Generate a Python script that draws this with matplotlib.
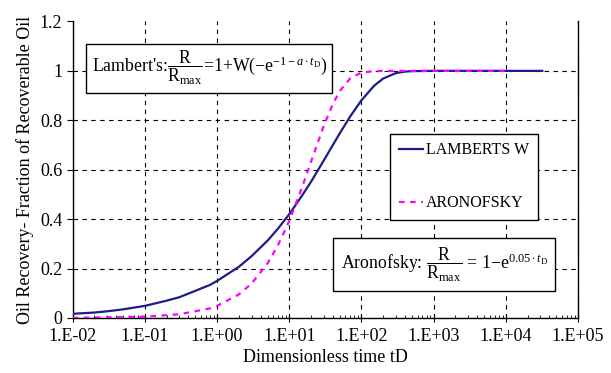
import matplotlib
matplotlib.use("Agg")
import matplotlib.pyplot as plt
from matplotlib.ticker import FixedLocator, LogLocator, NullFormatter

plt.rcParams['font.family'] = ['Liberation Serif', 'DejaVu Serif']
plt.rcParams['mathtext.fontset'] = 'custom'
plt.rcParams['mathtext.rm'] = 'Liberation Serif'
plt.rcParams['mathtext.it'] = 'Liberation Serif:italic'
plt.rcParams['font.size'] = 13

# Dimensionless time tD and recovery fractions
td_lambert = [0.01, 0.02, 0.03, 0.05, 0.1, 0.2, 0.3, 0.5, 0.8, 1, 2, 3, 5, 7, 10, 15, 20, 30,
              40, 50, 70, 100, 150, 200, 300, 400, 500, 1000, 32000]
r_lambert = [0.017, 0.022, 0.027, 0.035, 0.049, 0.070, 0.084, 0.110, 0.134, 0.15, 0.207, 0.25,
             0.313, 0.362, 0.42, 0.495, 0.551, 0.637, 0.699, 0.747, 0.816, 0.881, 0.94, 0.969,
             0.991, 0.997, 0.999, 1.0, 1.0]

td_aron = [0.01, 0.1, 0.3, 0.8, 1, 2, 3, 5, 7, 10, 15, 20, 30, 40, 50, 70, 100, 150, 200,
           1000, 10000]
r_aron = [0.0005, 0.005, 0.015, 0.039, 0.049, 0.095, 0.139, 0.221, 0.295, 0.393, 0.528, 0.632,
          0.777, 0.865, 0.918, 0.970, 0.993, 0.999, 1.0, 1.0, 1.0]

x_ticks = [1e-2, 1e-1, 1e0, 1e1, 1e2, 1e3, 1e4, 1e5]
x_labels = ['1.E-02', '1.E-01', '1.E+00', '1.E+01', '1.E+02', '1.E+03', '1.E+04', '1.E+05']
y_ticks = [0, 0.2, 0.4, 0.6, 0.8, 1.0, 1.2]
y_labels = ['0', '0.2', '0.4', '0.6', '0.8', '1', '1.2']

fig = plt.figure(figsize=(6.11, 3.73), dpi=100)
ax = fig.add_axes([0.119, 0.1475, 0.827, 0.795])

ax.plot(td_lambert, r_lambert, color='#1c1c8a', linewidth=1.6, label='LAMBERTS W', zorder=3)
ax.plot(td_aron, r_aron, color='#ff00ff', linewidth=1.6, linestyle=(0, (2.5, 2.5)),
        label='ARONOFSKY', zorder=4)

ax.set_xscale('log')
ax.set_xlim(1e-2, 1e5)
ax.set_ylim(0, 1.2)

ax.xaxis.set_major_locator(FixedLocator(x_ticks))
ax.set_xticklabels(x_labels)
ax.xaxis.set_minor_locator(LogLocator(base=10, subs=range(2, 10), numticks=20))
ax.xaxis.set_minor_formatter(NullFormatter())
ax.set_yticks(y_ticks)
ax.set_yticklabels(y_labels)

ax.tick_params(axis='x', which='major', direction='inout', length=6, width=0.8, pad=4)
ax.tick_params(axis='x', which='minor', direction='in', length=2.5, width=0.6)
ax.tick_params(axis='y', which='major', direction='out', length=4, width=0.8)

ax.spines['top'].set_visible(False)
for s in ['left', 'bottom', 'right']:
    ax.spines[s].set_linewidth(1.0)

ax.grid(True, which='major', color='black', linestyle=(0, (4, 4)), linewidth=0.8)
ax.yaxis.get_gridlines()[-1].set_visible(False)
ax.set_axisbelow(True)

ax.set_xlabel('Dimensionless time tD', fontsize=13, labelpad=3)
ax.set_ylabel('Oil Recovery- Fraction of Recoverable Oil', fontsize=13, labelpad=4)

leg = ax.legend(loc='center', bbox_to_anchor=(0.775, 0.476), fontsize=11.5, frameon=True,
                fancybox=False, edgecolor='black', framealpha=1, handlelength=1.5,
                handletextpad=0.2, labelspacing=2.3, borderpad=0.55)
leg.get_frame().set_linewidth(1.0)
leg.set_zorder(6)

box = dict(boxstyle='square,pad=0.3', facecolor='white', edgecolor='black', linewidth=1.0)
ax.text(0.27, 0.842,
        r"Lambert's:$\dfrac{\mathrm{R}}{\mathrm{R}_{\mathrm{max}}}$=1+W($-$e$^{-1-a\bullet t_{\mathrm{D}}}$)",
        transform=ax.transAxes, ha='center', va='center', fontsize=12.8, bbox=box, zorder=6)
box2 = dict(boxstyle='square,pad=0.42', facecolor='white', edgecolor='black', linewidth=1.0)
ax.text(0.735, 0.179,
        r"Aronofsky: $\dfrac{\mathrm{R}}{\mathrm{R}_{\mathrm{max}}}$ = 1$-$e$^{0.05\bullet t_{\mathrm{D}}}$",
        transform=ax.transAxes, ha='center', va='center', fontsize=12.8, bbox=box2, zorder=6)

fig.savefig('out.png', dpi=100)
